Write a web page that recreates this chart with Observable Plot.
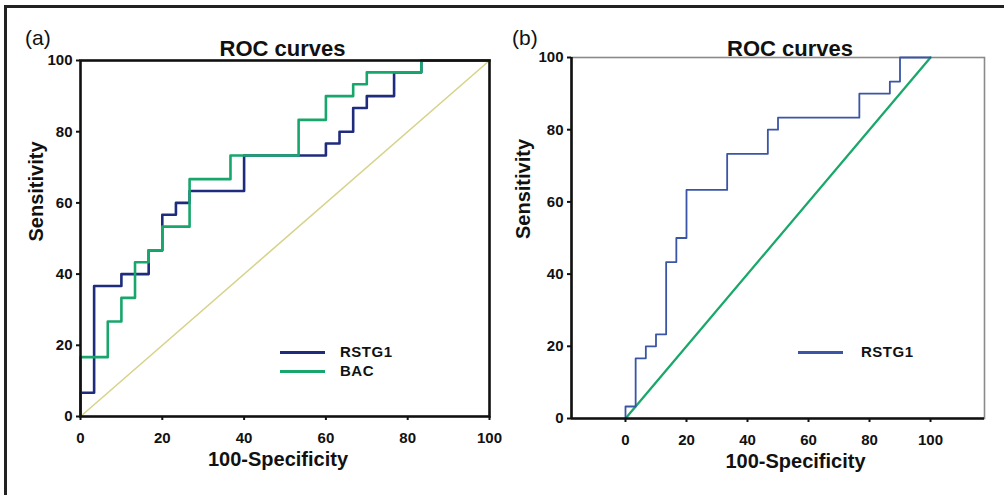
<!DOCTYPE html>
<html>
<head>
<meta charset="utf-8">
<script src="https://cdn.jsdelivr.net/npm/d3@7"></script>
<script src="https://cdn.jsdelivr.net/npm/@observablehq/plot@0.6"></script>
<style>
  html, body { margin: 0; padding: 0; background: #fff; }
  #wrap { position: relative; width: 1004px; height: 495px; overflow: hidden; background: #fff;
          font-family: "Liberation Sans", Arial, sans-serif; color: #111; }
  .abs { position: absolute; }
  .panel svg { display: block; }
  .tag { font-size: 21px; font-weight: normal; line-height: 1; }
  .leg { font-size: 15px; font-weight: bold; line-height: 1; letter-spacing: 0.5px; }
  .legline { height: 3px; }
</style>
</head>
<body>
<div id="wrap">
  <div class="abs" style="left:4px;top:5px;width:1000px;height:2.5px;background:#222;"></div>
  <div class="abs" style="left:4px;top:5px;width:2.5px;height:490px;background:#222;"></div>
  <div id="pa" class="abs panel" style="left:0;top:0;"></div>
  <div id="pb" class="abs panel" style="left:500px;top:0;"></div>
</div>
<script>
// ---------- data ----------
const axisTicks = [0, 20, 40, 60, 80, 100];
const chartTitle = "ROC curves";
const xLabel = "100-Specificity";
const yLabel = "Sensitivity";
const panelTags = ["(a)", "(b)"];
const seriesA = ["RSTG1", "BAC"];
const seriesB = ["RSTG1"];

// Panel (a) RSTG1 (100-specificity, sensitivity) corner points
const aRstg1X = [0, 0, 3.33, 10, 16.67, 20, 23.33, 26.67, 40, 60, 63.33, 66.67, 70, 76.67, 83.33, 100];
const aRstg1Y = [0, 6.67, 36.67, 40, 46.67, 56.67, 60, 63.33, 73.33, 76.67, 80, 86.67, 90, 96.67, 100, 100];
// Panel (a) BAC
const aBacX = [0, 0, 6.67, 10, 13.33, 16.67, 20, 26.67, 36.67, 53.33, 60, 66.67, 70, 83.33, 100];
const aBacY = [0, 16.67, 26.67, 33.33, 43.33, 46.67, 53.33, 66.67, 73.33, 83.33, 90, 93.33, 96.67, 100, 100];
// Panel (b) RSTG1
const bRstg1X = [0, 0, 3.33, 6.67, 10, 13.33, 16.67, 20, 33.33, 46.67, 50, 76.67, 86.67, 90, 100];
const bRstg1Y = [0, 3.33, 16.67, 20, 23.33, 43.33, 50, 63.33, 73.33, 80, 83.33, 90, 93.33, 100, 100];
// reference diagonal
const diagX = [0, 100];
const diagY = [0, 100];

const xDomainA = [0, 100];
const xDomainB = [-17.7, 117.7];
const yDomain = [0, 100];

// ---------- helpers ----------
const pts = (xs, ys) => xs.map((x, i) => ({x, y: ys[i]}));
const FONT = "Liberation Sans, Arial, sans-serif";
const tickOpts = {fontSize: 15, fontWeight: "bold", tickSize: 4, strokeWidth: 2, label: null, tickFormat: d => String(d), fill: "#111", stroke: "#111"};

function styleTicks(svg) {
  const tickSet = new Set(axisTicks.map(String));
  svg.querySelectorAll("text").forEach(t => {
    if (tickSet.has(t.textContent.trim())) {
      t.style.fontSize = "15px";
      t.style.fontWeight = "bold";
      t.style.fill = "#111";
    }
  });
}

// ---------- panel (a) ----------
const plotA = Plot.plot({
  width: 500, height: 495,
  marginLeft: 80, marginRight: 11, marginTop: 60, marginBottom: 79,
  x: {domain: xDomainA}, y: {domain: yDomain},
  style: {fontFamily: FONT, background: "transparent", color: "#111", overflow: "visible"},
  marks: [
    Plot.line(pts(diagX, diagY), {x: "x", y: "y", stroke: "#d8d38c", strokeWidth: 1.6}),
    Plot.line(pts(aRstg1X, aRstg1Y), {x: "x", y: "y", curve: "step-after", stroke: "#1f2c7e", strokeWidth: 2.6}),
    Plot.line(pts(aBacX, aBacY), {x: "x", y: "y", curve: "step-after", stroke: "#19a66c", strokeWidth: 2.6}),
    Plot.frame({stroke: "#111", strokeWidth: 2.6}),
    Plot.axisX({...tickOpts, ticks: axisTicks, tickPadding: 12}),
    Plot.axisY({...tickOpts, ticks: axisTicks, tickPadding: 4}),
    Plot.text([xLabel], {frameAnchor: "bottom", dx: -7, dy: 49, fontSize: 20, fontWeight: "bold", fill: "#111"}),
    Plot.text([yLabel], {frameAnchor: "left", dx: -44, dy: 3, rotate: -90, fontSize: 20, fontWeight: "bold", fill: "#111"}),
    Plot.text([chartTitle], {frameAnchor: "top", dx: -2.5, dy: -20, fontSize: 22, fontWeight: "bold", fill: "#111"})
  ]
});
styleTicks(plotA);
document.getElementById("pa").appendChild(plotA);

// ---------- panel (b) ----------
const plotB = Plot.plot({
  width: 504, height: 495,
  marginLeft: 71, marginRight: 20, marginTop: 57, marginBottom: 77,
  x: {domain: xDomainB}, y: {domain: yDomain},
  style: {fontFamily: FONT, background: "transparent", color: "#111", overflow: "visible"},
  marks: [
    Plot.frame({stroke: "#8a8a8a", strokeWidth: 1.6}),
    Plot.line(pts(diagX, diagY), {x: "x", y: "y", stroke: "#1aa86a", strokeWidth: 2.3}),
    Plot.line(pts(bRstg1X, bRstg1Y), {x: "x", y: "y", curve: "step-after", stroke: "#3a55a6", strokeWidth: 1.8}),
    Plot.ruleY([yDomain[0]], {stroke: "#111", strokeWidth: 2.6}),
    Plot.ruleX([xDomainB[0]], {stroke: "#111", strokeWidth: 2.6}),
    Plot.axisX({...tickOpts, ticks: axisTicks, tickPadding: 12}),
    Plot.axisY({...tickOpts, ticks: axisTicks, tickPadding: 4}),
    Plot.text([xLabel], {frameAnchor: "bottom", dx: 17.5, dy: 49, fontSize: 20, fontWeight: "bold", fill: "#111"}),
    Plot.text([yLabel], {frameAnchor: "left", dx: -47.5, dy: 1, rotate: -90, fontSize: 20, fontWeight: "bold", fill: "#111"}),
    Plot.text([chartTitle], {frameAnchor: "top", dx: 12, dy: -17, fontSize: 22, fontWeight: "bold", fill: "#111"})
  ]
});
styleTicks(plotB);
document.getElementById("pb").appendChild(plotB);

// ---------- tags & legends (HTML) ----------
const wrap = document.getElementById("wrap");
function addDiv(cls, style, text) {
  const d = document.createElement("div");
  d.className = "abs " + cls;
  d.setAttribute("style", style);
  if (text != null) d.textContent = text;
  wrap.appendChild(d);
  return d;
}
addDiv("tag", "left:25px;top:27px;", panelTags[0]);
addDiv("tag", "left:512px;top:27px;", panelTags[1]);

const colorsA = ["#1f2c7e", "#19a66c"];
seriesA.forEach((s, i) => {
  const y = 352 + i * 19;
  addDiv("legline", `left:280px;top:${y - 1.5}px;width:45px;background:${colorsA[i]};`);
  addDiv("leg", `left:340px;top:${y - 8}px;`, s);
});
const colorsB = ["#3a55a6"];
seriesB.forEach((s, i) => {
  const y = 352 + i * 19;
  addDiv("legline", `left:798px;top:${y - 1.5}px;width:45px;background:${colorsB[i]};`);
  addDiv("leg", `left:861px;top:${y - 8}px;`, s);
});
</script>
</body>
</html>
